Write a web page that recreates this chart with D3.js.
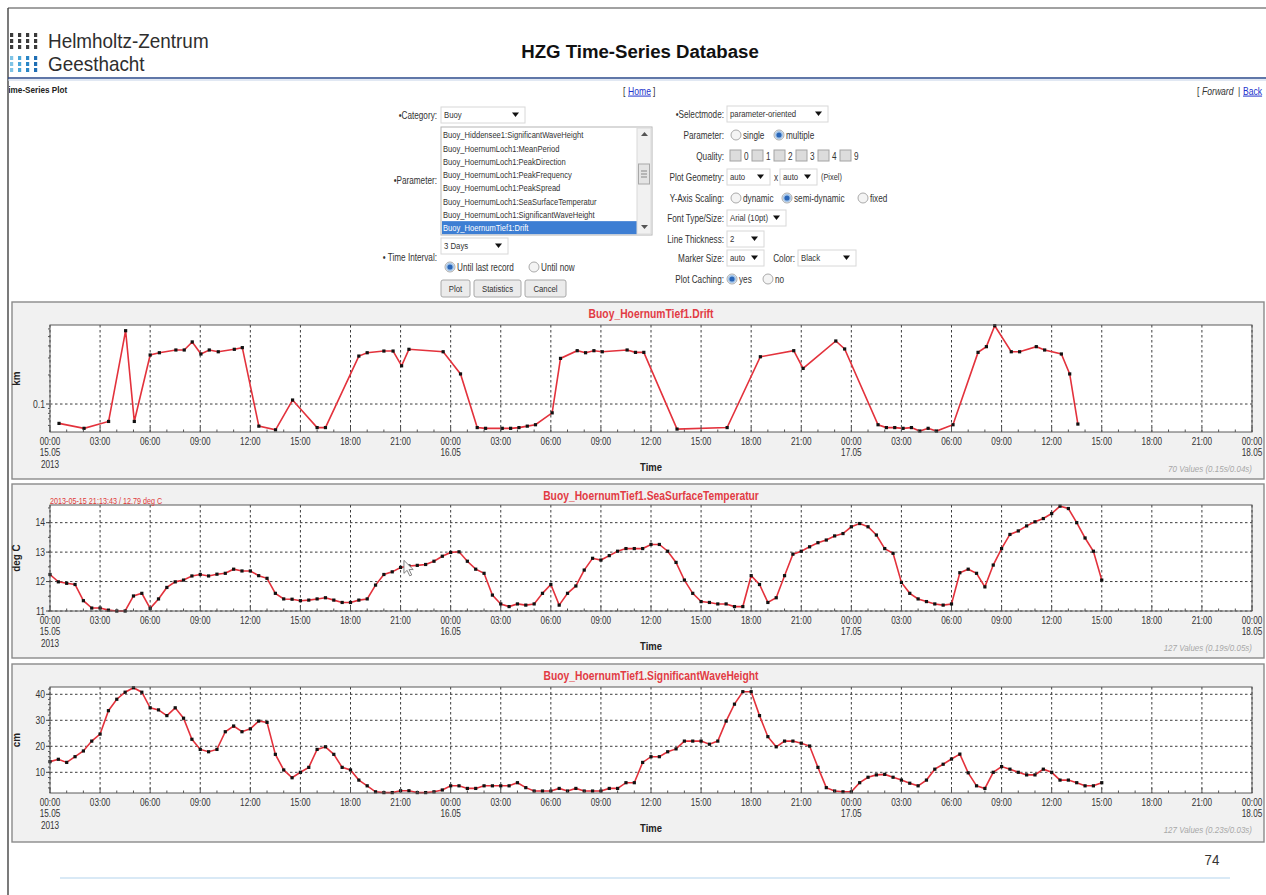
<!DOCTYPE html>
<html><head><meta charset="utf-8">
<script src="https://cdn.jsdelivr.net/npm/d3@7"></script>
<style>
html,body{margin:0;padding:0;background:#fff;overflow:hidden}
svg{display:block;font-family:"Liberation Sans",Arial,sans-serif}
</style></head><body>
<svg id="page" width="1266" height="895"></svg>
<script>
// ---------- data ----------
const seriesStart = "2013-05-15T00:00:00Z";
const seriesEnd   = "2013-05-18T00:00:00Z";
const tickStepHours = 3;
const sampleStepMinutes = 30;

// Buoy_HoernumTief1.Drift (hours after start, km)
const driftHours = [0.54,2.04,3.51,4.53,5.05,6.0,6.55,7.54,8.04,8.52,9.04,9.54,10.08,11.04,11.52,12.51,13.51,14.53,16.0,16.5,18.5,19.0,20.0,20.55,21.06,21.5,
  23.55,24.59,25.59,26.09,27.09,27.59,28.09,28.59,29.08,30.08,30.58,31.58,32.08,32.58,33.08,34.57,35.07,35.57,37.56,40.56,42.55,44.55,45.11,47.07,
  47.6,49.6,50.1,50.6,51.1,51.6,52.1,52.6,53.1,54.09,55.59,56.09,56.59,57.58,58.08,59.08,59.58,60.58,61.08,61.57];
const driftKm = [0.063,0.056,0.066,0.575,0.066,0.322,0.34,0.363,0.363,0.44,0.33,0.363,0.348,0.369,0.384,0.059,0.054,0.11,0.057,0.057,0.314,0.34,0.354,0.354,0.249,0.369,
  0.348,0.205,0.057,0.056,0.056,0.056,0.057,0.059,0.061,0.081,0.297,0.357,0.34,0.357,0.348,0.363,0.343,0.343,0.055,0.057,0.309,0.357,0.234,0.45,
  0.372,0.061,0.057,0.057,0.056,0.057,0.0525,0.056,0.0525,0.061,0.343,0.393,0.648,0.348,0.348,0.393,0.363,0.33,0.205,0.062];

// Buoy_HoernumTief1.SeaSurfaceTemperatur (deg C, every 30 min)
const sstDegC = [12.24,11.99,11.94,11.90,11.35,11.10,11.10,11.03,11.00,11.00,
  11.51,11.60,11.09,11.41,11.80,11.99,12.05,12.19,12.24,12.19,
  12.25,12.28,12.42,12.36,12.36,12.20,12.11,11.60,11.41,11.40,
  11.35,11.37,11.41,11.45,11.37,11.29,11.29,11.37,11.41,11.88,
  12.24,12.33,12.48,12.53,12.55,
  12.58,12.69,12.86,12.99,13.01,12.69,12.42,12.28,11.54,11.24,
  11.15,11.24,11.20,11.24,11.60,11.90,11.20,11.60,11.85,12.39,
  12.79,12.73,12.88,13.03,13.12,13.12,13.12,13.26,13.26,13.03,
  12.65,12.05,11.60,11.32,11.29,11.24,11.24,11.15,11.15,12.20,
  11.90,11.29,11.45,12.20,12.93,13.03,13.18,13.32,13.41,13.55,
  13.63,13.86,13.97,13.86,13.58,13.12,12.96,11.97,11.60,11.41,
  11.32,11.24,11.20,11.24,12.30,12.42,12.28,11.82,12.56,13.12,
  13.60,13.72,13.89,14.03,14.14,14.31,14.56,14.48,14.00,13.48,
  13.03,12.05];

// Buoy_HoernumTief1.SignificantWaveHeight (cm, every 30 min)
const waveCm = [14.1,15.0,13.8,16.0,18.2,22.0,24.7,33.7,38.1,40.8,
  42.5,40.8,34.8,34.0,31.8,34.8,30.8,22.7,18.8,17.9,
  18.8,25.6,27.8,25.6,26.7,29.7,29.2,16.9,10.9,7.9,
  10.0,11.9,18.8,19.8,16.9,11.9,10.9,7.0,4.8,2.5,
  2.2,2.2,2.9,2.9,2.2,
  2.2,2.5,3.2,4.8,4.8,3.8,3.8,4.8,4.8,4.8,
  4.8,6.0,4.1,2.8,2.8,2.8,3.8,2.8,3.8,2.8,
  2.8,2.8,3.8,3.8,6.0,6.0,13.8,16.0,16.0,17.9,
  19.0,22.0,22.0,22.0,20.8,22.0,29.7,36.2,41.0,41.0,
  31.8,23.7,19.8,22.0,22.0,21.2,20.1,11.9,4.1,2.8,
  2.5,2.5,6.0,8.1,9.0,9.2,8.1,7.0,5.8,4.8,
  7.0,11.2,13.1,15.1,17.0,9.8,4.8,3.8,10.0,12.2,
  11.2,10.0,9.0,9.0,11.2,10.0,7.0,7.0,6.0,4.8,
  4.8,6.0];

const driftTicks = [0.1];
const driftMinorTicks = [0.06,0.07,0.08,0.09,0.2,0.3,0.4,0.5,0.6];
const sstTicks = [11,12,13,14];
const waveTicks = [10,20,30,40];
const panelTitles = ["Buoy_HoernumTief1.Drift","Buoy_HoernumTief1.SeaSurfaceTemperatur","Buoy_HoernumTief1.SignificantWaveHeight"];
const panelUnits = ["km","deg C","cm"];
const valueNotes = ["70 Values (0.15s/0.04s)","127 Values (0.19s/0.05s)","127 Values (0.23s/0.03s)"];
const cursorReadout = "2013-05-15 21:13:43 / 12.79 deg C";

const parameterOptions = ["Buoy_Hiddensee1:SignificantWaveHeight","Buoy_HoernumLoch1:MeanPeriod","Buoy_HoernumLoch1:PeakDirection",
  "Buoy_HoernumLoch1:PeakFrequency","Buoy_HoernumLoch1:PeakSpread","Buoy_HoernumLoch1:SeaSurfaceTemperatur",
  "Buoy_HoernumLoch1:SignificantWaveHeight","Buoy_HoernumTief1:Drift"];
const qualityFlags = ["0","1","2","3","4","9"];

// ---------- helpers ----------
const svg = d3.select("#page");
const SX = 0.86;
function txt(parent, x, y, s, o = {}) {
  const t = parent.append("text")
    .attr("transform", `translate(${x},${y}) scale(${o.sx ?? SX},1)`)
    .attr("dy", "0.35em")
    .attr("font-size", o.size ?? 10)
    .attr("text-anchor", o.anchor ?? "start")
    .attr("fill", o.fill ?? "#222")
    .text(s);
  if (o.weight) t.attr("font-weight", o.weight);
  if (o.style) t.attr("font-style", o.style);
  if (o.deco) t.attr("text-decoration", o.deco);
  return t;
}

// ---------- page frame & header ----------
svg.append("line").attr("x1", 8).attr("x2", 8).attr("y1", 8).attr("y2", 895).attr("stroke", "#222").attr("stroke-width", 1.2);
svg.append("line").attr("x1", 8).attr("x2", 1266).attr("y1", 8).attr("y2", 8).attr("stroke", "#444").attr("stroke-width", 1);

const logo = svg.append("g");
const logoCols = [10, 18, 26, 34];
const darkRows = [33, 39, 45];
const blueRows = [56, 62, 68];
const blueShades = ["#7fc4e6", "#4aa6d8", "#2a86c6", "#1f6eb4"];
logoCols.forEach((cx, i) => {
  darkRows.forEach(ry => logo.append("rect").attr("x", cx).attr("y", ry).attr("width", 3.2).attr("height", 4).attr("fill", "#3a3a3a"));
  blueRows.forEach(ry => logo.append("rect").attr("x", cx).attr("y", ry).attr("width", 3.2).attr("height", 4).attr("fill", blueShades[i]));
});
txt(svg, 48, 41, "Helmholtz-Zentrum", {size: 21, sx: 0.9, fill: "#2e2e2e"});
txt(svg, 48, 64, "Geesthacht", {size: 21, sx: 0.9, fill: "#2e2e2e"});
txt(svg, 640, 51, "HZG Time-Series Database", {size: 19, sx: 0.98, anchor: "middle", weight: "bold", fill: "#111"});

svg.append("line").attr("x1", 8).attr("x2", 1266).attr("y1", 78).attr("y2", 78).attr("stroke", "#2b4a8b").attr("stroke-width", 1.6);
svg.append("line").attr("x1", 8).attr("x2", 1266).attr("y1", 80).attr("y2", 80).attr("stroke", "#c4d2e8").attr("stroke-width", 1);

const clipL = svg.append("defs").append("clipPath").attr("id", "leftClip");
clipL.append("rect").attr("x", 9).attr("y", 0).attr("width", 1257).attr("height", 895);
txt(svg.append("g").attr("clip-path", "url(#leftClip)"), 3.5, 90, "Time-Series Plot", {size: 9.5, weight: "bold", sx: 0.86});

const nav = svg.append("g");
txt(nav, 623, 91, "[", {size: 10, fill: "#333"});
txt(nav, 628, 91, "Home", {size: 10, fill: "#2233cc", deco: "underline"});
txt(nav, 653, 91, "]", {size: 10, fill: "#333"});
txt(nav, 1197, 91, "[", {size: 10, fill: "#333"});
txt(nav, 1202, 91, "Forward", {size: 10, fill: "#333", style: "italic"});
txt(nav, 1238, 91, "|", {size: 10, fill: "#333"});
txt(nav, 1243, 91, "Back", {size: 10, fill: "#2233cc", deco: "underline"});

// ---------- form ----------
const form = svg.append("g");
const FSX = 0.82;
function label(x, y, s, anchor = "end") { return txt(form, x, y, s, {size: 10, sx: FSX, anchor, fill: "#333"}); }
function selectBox(x, y, w, s) {
  form.append("rect").attr("x", x).attr("y", y - 8).attr("width", w).attr("height", 16).attr("fill", "#fff").attr("stroke", "#d8d8d8");
  txt(form, x + 3, y, s, {size: 9.5, sx: FSX, fill: "#333"});
  form.append("path").attr("d", `M${x + w - 13},${y - 2.5}h7l-3.5,4.5z`).attr("fill", "#111");
}
function radio(x, y, on) {
  form.append("circle").attr("cx", x).attr("cy", y).attr("r", 5).attr("fill", "#f4f4f4").attr("stroke", "#aaa");
  if (on) {
    form.append("circle").attr("cx", x).attr("cy", y).attr("r", 4.2).attr("fill", "#a8c8ea");
    form.append("circle").attr("cx", x).attr("cy", y).attr("r", 2.6).attr("fill", "#2a66b8");
  }
}
function checkbox(x, y) {
  form.append("rect").attr("x", x).attr("y", y - 6).attr("width", 11).attr("height", 11).attr("fill", "#dcdcdc").attr("stroke", "#a4a4a4");
}
function button(x, y, w, s) {
  form.append("rect").attr("x", x).attr("y", y).attr("width", w).attr("height", 17).attr("rx", 2)
    .attr("fill", "#ebebeb").attr("stroke", "#a8a8a8");
  txt(form, x + w / 2, y + 8.5, s, {size: 9.5, sx: FSX, anchor: "middle", fill: "#333"});
}

label(437, 115, "•Category:");
selectBox(441, 115, 84, "Buoy");
// parameter list box
const lb = {x: 441, y: 127, w: 211, h: 108, rowH: 13.25};
form.append("rect").attr("x", lb.x).attr("y", lb.y).attr("width", lb.w).attr("height", lb.h).attr("fill", "#fff").attr("stroke", "#b4b4b4");
parameterOptions.forEach((p, i) => {
  const cy = 135 + i * lb.rowH;
  const sel = i === parameterOptions.length - 1;
  if (sel) form.append("rect").attr("x", lb.x + 1).attr("y", cy - 6.6).attr("width", 195).attr("height", 13).attr("fill", "#3d7ed3");
  txt(form, lb.x + 2, cy, p, {size: 9.5, sx: 0.8, fill: sel ? "#fff" : "#333"});
});
const sb = form.append("g");
sb.append("rect").attr("x", 637).attr("y", 128).attr("width", 14).attr("height", 106).attr("fill", "#f1f1f1").attr("stroke", "#dadada");
sb.append("path").attr("d", "M641,136l3.5,-4l3.5,4z").attr("fill", "#555");
sb.append("path").attr("d", "M641,225l3.5,4l3.5,-4z").attr("fill", "#555");
sb.append("rect").attr("x", 638.5).attr("y", 164).attr("width", 11).attr("height", 20).attr("fill", "#e4e4e4").attr("stroke", "#a8a8a8");
[171, 174, 177].forEach(yy => sb.append("line").attr("x1", 641).attr("x2", 647).attr("y1", yy).attr("y2", yy).attr("stroke", "#888"));
label(437, 180, "•Parameter:");
selectBox(441, 246, 67, "3 Days");
label(437, 257, "• Time Interval:");
radio(450, 267, true); label(457, 267, "Until last record", "start");
radio(534, 267, false); label(541, 267, "Until now", "start");
button(441, 280, 29, "Plot");
button(474, 280, 47, "Statistics");
button(525, 280, 41, "Cancel");

label(724, 114, "•Selectmode:");
selectBox(727, 114, 101, "parameter-oriented");
label(724, 135, "Parameter:");
radio(736, 135, false); label(743, 135, "single", "start");
radio(779, 135, true); label(786, 135, "multiple", "start");
label(724, 156, "Quality:");
qualityFlags.forEach((q, i) => { checkbox(730 + i * 22, 156); label(744 + i * 22, 156, q, "start"); });
label(724, 177, "Plot Geometry:");
selectBox(727, 177, 43, "auto");
label(774, 177, "x", "start");
selectBox(780, 177, 37, "auto");
txt(form, 821, 177, "(Pixel)", {size: 9, sx: FSX, fill: "#333"});
label(724, 198, "Y-Axis Scaling:");
radio(736, 198, false); label(743, 198, "dynamic", "start");
radio(787, 198, true); label(794, 198, "semi-dynamic", "start");
radio(863, 198, false); label(870, 198, "fixed", "start");
label(724, 218, "Font Type/Size:");
selectBox(727, 218, 59, "Arial (10pt)");
label(724, 239, "Line Thickness:");
selectBox(727, 239, 37, "2");
label(724, 258, "Marker Size:");
selectBox(727, 258, 37, "auto");
label(795, 258, "Color:");
selectBox(798, 258, 58, "Black");
label(724, 279, "Plot Caching:");
radio(732, 279, true); label(739, 279, "yes", "start");
radio(768, 279, false); label(775, 279, "no", "start");

// ---------- time-series panels ----------
const parseT = d3.utcParse("%Y-%m-%dT%H:%M:%SZ");
const t0 = parseT(seriesStart), t1 = parseT(seriesEnd);
const HOUR = 3600e3;
const x = d3.scaleUtc().domain([t0, t1]).range([50, 1252]);
const majorTicks = d3.utcHour.every(tickStepHours).range(t0, new Date(+t1 + 1));
const minorTicks = d3.utcHour.every(1).range(t0, new Date(+t1 + 1));
const fmtHM = d3.utcFormat("%H:%M"), fmtDM = d3.utcFormat("%d.%m"), fmtY = d3.utcFormat("%Y");

const regular = vals => vals.map((v, i) => ({t: new Date(+t0 + i * sampleStepMinutes * 60e3), v}));

const panels = [
  {top: 302, bottom: 479, pt: 325, pb: 432,
   y: d3.scaleLog().domain([0.0513, 0.659]), ticks: driftTicks, minor: driftMinorTicks, fmt: d3.format(".1f"),
   data: driftHours.map((h, i) => ({t: new Date(+t0 + h * HOUR), v: driftKm[i]}))},
  {top: 484, bottom: 658, pt: 505, pb: 611,
   y: d3.scaleLinear().domain([11, 14.6]), ticks: sstTicks, minor: d3.range(11, 14.6, 0.5), fmt: d3.format("d"),
   data: regular(sstDegC), readout: true},
  {top: 664, bottom: 842, pt: 687, pb: 793,
   y: d3.scaleLinear().domain([2.04, 42.8]), ticks: waveTicks, minor: d3.range(4, 42.8, 2), fmt: d3.format("d"),
   data: regular(waveCm)}
];

panels.forEach((p, k) => {
  p.y.range([p.pb, p.pt]);
  const g = svg.append("g");
  const xl = x.range()[0], xr = x.range()[1];
  // panel background
  g.append("rect").attr("x", 12).attr("y", p.top).attr("width", 1252).attr("height", p.bottom - p.top)
    .attr("fill", "#f1f1f1").attr("stroke", "#8a8a8a").attr("stroke-width", 1.4);
  g.append("rect").attr("x", xl).attr("y", p.pt).attr("width", xr - xl).attr("height", p.pb - p.pt).attr("fill", "#fff");

  // grid
  const grid = g.append("g").attr("stroke", "#3c3c3c").attr("stroke-width", 1).attr("stroke-dasharray", "2.5,2.5");
  majorTicks.forEach(t => grid.append("line").attr("x1", x(t)).attr("x2", x(t)).attr("y1", p.pt).attr("y2", p.pb));
  p.ticks.forEach(v => grid.append("line").attr("x1", xl).attr("x2", xr).attr("y1", p.y(v)).attr("y2", p.y(v)));

  // series
  const line = d3.line().x(d => x(d.t)).y(d => p.y(d.v));
  g.append("path").datum(p.data).attr("d", line).attr("fill", "none").attr("stroke", "#e3323c").attr("stroke-width", 1.6);
  g.append("g").selectAll("rect").data(p.data).join("rect")
    .attr("x", d => x(d.t) - 1.6).attr("y", d => p.y(d.v) - 1.6).attr("width", 3.2).attr("height", 3.2).attr("fill", "#111");

  // frame
  g.append("rect").attr("x", xl).attr("y", p.pt).attr("width", xr - xl).attr("height", p.pb - p.pt)
    .attr("fill", "none").attr("stroke", "#5a5a5a").attr("stroke-width", 1);

  // x minor ticks
  const xt = g.append("g").attr("stroke", "#555");
  minorTicks.forEach(t => xt.append("line").attr("x1", x(t)).attr("x2", x(t)).attr("y1", p.pb).attr("y2", p.pb - (+t % (tickStepHours * HOUR) === 0 ? 5 : 2.5)));

  // y axis ticks + labels
  const ya = g.append("g");
  p.minor.forEach(v => ya.append("line").attr("x1", xl - 2).attr("x2", xl).attr("y1", p.y(v)).attr("y2", p.y(v)).attr("stroke", "#555"));
  p.ticks.forEach(v => {
    ya.append("line").attr("x1", xl - 4).attr("x2", xl).attr("y1", p.y(v)).attr("y2", p.y(v)).attr("stroke", "#444");
    txt(ya, xl - 5, p.y(v), p.fmt(v), {size: 10, anchor: "end", fill: "#333"});
  });

  // x tick labels
  majorTicks.forEach((t, i) => {
    txt(g, x(t), p.pb + 9, fmtHM(t), {size: 10, anchor: "middle", fill: "#333", sx: 0.82});
    if (t.getUTCHours() === 0) txt(g, x(t), p.pb + 20, fmtDM(t), {size: 10, anchor: "middle", fill: "#333", sx: 0.82});
    if (i === 0) txt(g, x(t), p.pb + 32, fmtY(t), {size: 10, anchor: "middle", fill: "#333", sx: 0.82});
  });

  // titles & labels
  const mid = (xl + xr) / 2;
  txt(g, mid, p.top + 11.5, panelTitles[k], {size: 12, weight: "bold", anchor: "middle", fill: "#e23b44", sx: 0.86});
  txt(g, mid, p.pb + 35, "Time", {size: 11, weight: "bold", anchor: "middle", fill: "#222", sx: 0.86});
  txt(g, xr, p.pb + 37, valueNotes[k], {size: 9.5, style: "italic", anchor: "end", fill: "#a8a8a8", sx: 0.84});
  g.append("text").attr("transform", `translate(20,${(p.pt + p.pb) / 2}) rotate(-90) scale(0.9,1)`)
    .attr("text-anchor", "middle").attr("font-size", 11).attr("font-weight", "bold").attr("fill", "#222").text(panelUnits[k]);

  if (p.readout) {
    txt(g, xl, p.pt - 4, cursorReadout, {size: 9.5, fill: "#e03a3a", sx: 0.76});
    // mouse pointer resting on the temperature curve
    g.append("path").attr("transform", `translate(${x(new Date(+t0 + 21.2 * HOUR))},${p.y(12.72)})`)
      .attr("d", "M0,0L0,13L3.2,10L5.8,15.5L7.8,14.6L5.2,9.2L9.3,9.2Z")
      .attr("fill", "#fafafa").attr("stroke", "#777").attr("stroke-width", 0.9);
  }
});

// ---------- slide footer ----------
txt(svg, 1212, 860, "74", {size: 14, anchor: "middle", fill: "#333", sx: 0.95});
svg.append("line").attr("x1", 60).attr("x2", 1230).attr("y1", 878).attr("y2", 878).attr("stroke", "#b3d3ec").attr("stroke-width", 1);
</script>
</body></html>
